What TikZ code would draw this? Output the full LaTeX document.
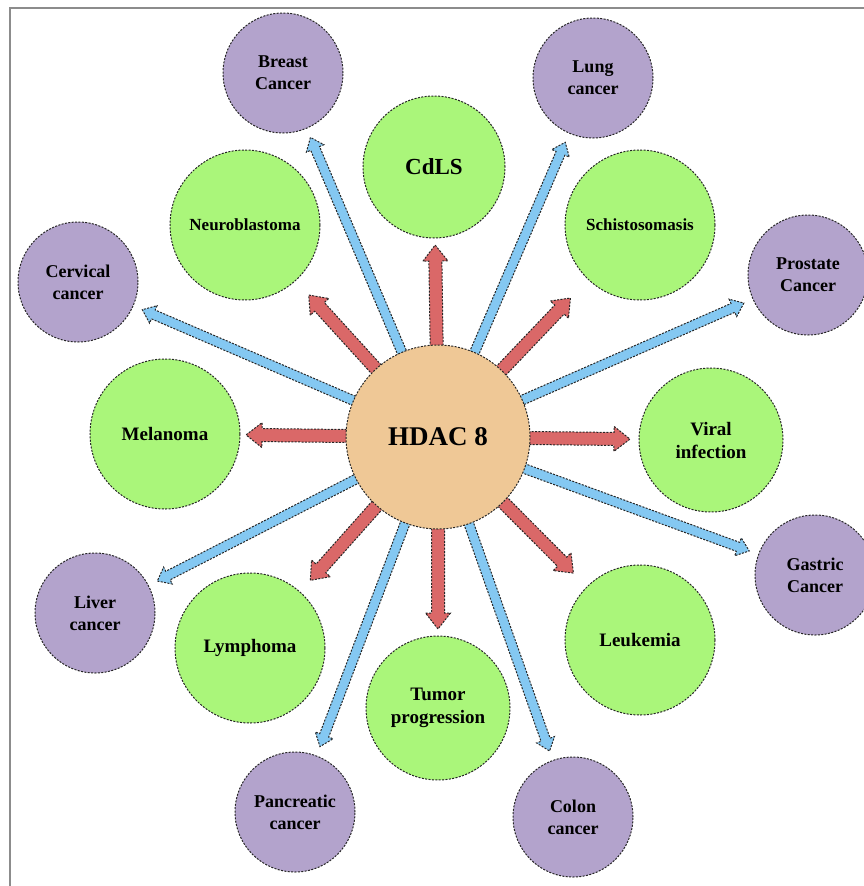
\documentclass[tikz,border=0pt]{standalone}
\usepackage{fontspec}
\setmainfont{Liberation Serif}
\usetikzlibrary{calc,backgrounds}
\definecolor{illgreen}{RGB}{170,246,122}
\definecolor{cancerpurple}{RGB}{179,163,204}
\definecolor{hubtan}{RGB}{239,200,150}
\definecolor{arrowred}{RGB}{218,104,104}
\definecolor{arrowblue}{RGB}{132,200,242}
\definecolor{framegray}{RGB}{140,140,140}
\tikzset{
  outline/.style={draw=black!85, line width=1pt, dash pattern=on 2pt off 1.4pt},
  hub/.style={circle, outline, fill=hubtan, minimum size=184pt, inner sep=0pt, font=\bfseries\fontsize{27}{30}\selectfont},
  disease/.style={circle, outline, fill=illgreen, minimum size=150pt, inner sep=0pt, align=center, font=\bfseries\fontsize{19}{23}\selectfont},
  cancer/.style={circle, outline, fill=cancerpurple, minimum size=120pt, inner sep=0pt, align=center, font=\bfseries\fontsize{18}{22}\selectfont},
  redarrow/.style={outline, fill=arrowred},
  bluearrow/.style={outline, fill=arrowblue}
}
\newcommand{\fatarrow}[6]{%
  \coordinate (hd) at ($(#3)!#6!(#2)$);
  \draw[#1] ($(#2)!#4!90:(#3)$) -- ($(hd)!#4!-90:(#2)$) -- ($(hd)!#5!-90:(#2)$) -- (#3)
    -- ($(hd)!#5!90:(#2)$) -- ($(hd)!#4!90:(#2)$) -- ($(#2)!#4!-90:(#3)$) -- cycle;
}
\begin{document}
\begin{tikzpicture}[x=1pt, y=-1pt]
    \useasboundingbox (0,0) rectangle (864,886);
    \draw[framegray, line width=2pt] (10,886) -- (10,8) -- (864,8);
    \node (hdac) at (438,437) [hub] {HDAC 8};
    \node (cdls) at (434,167) [disease, minimum size=142pt, font=\bfseries\fontsize{23}{26}\selectfont] {CdLS};
    \node (neuro) at (245,225) [disease, font=\bfseries\fontsize{17}{20}\selectfont] {Neuroblastoma};
    \node (schisto) at (640,225) [disease, font=\bfseries\fontsize{17}{20}\selectfont] {Schistosomasis};
    \node (melanoma) at (165,434) [disease] {Melanoma};
    \node (viral) at (711,440) [disease, minimum size=144pt] {Viral\\infection};
    \node (lymphoma) at (250,648) [disease] {Lymphoma};
    \node (tumor) at (438,708) [disease, minimum size=144pt] {Tumor\\progression};
    \node (leukemia) at (640,640) [disease] {Leukemia};
    \node (breast) at (283,73) [cancer] {Breast\\Cancer};
    \node (lung) at (593,78) [cancer] {Lung\\cancer};
    \node (cervical) at (78,282) [cancer] {Cervical\\cancer};
    \node (prostate) at (808,275) [cancer] {Prostate\\Cancer};
    \node (gastric) at (815,575) [cancer] {Gastric\\Cancer};
    \node (liver) at (95,613) [cancer] {Liver\\cancer};
    \node (pancreatic) at (295,812) [cancer] {Pancreatic\\cancer};
    \node (colon) at (573,817) [cancer] {Colon\\cancer};
    \begin{scope}[on background layer]
        \foreach \t in {cdls,neuro,schisto,melanoma,viral,lymphoma,tumor,leukemia} {
            \coordinate (s) at ($(hdac)!80pt!(\t)$);
            \coordinate (e) at ($(hdac)!192pt!(\t)$);
            \fatarrow{redarrow}{s}{e}{6.5pt}{12.5pt}{16pt}
        }
        \foreach \t in {breast,lung,cervical,prostate,gastric,liver,pancreatic,colon} {
            \coordinate (s) at ($(hdac)!80pt!(\t)$);
            \coordinate (e) at ($(\t)!70pt!(hdac)$);
            \fatarrow{bluearrow}{s}{e}{4.8pt}{9.5pt}{12pt}
        }
    \end{scope}
\end{tikzpicture}
\end{document}
